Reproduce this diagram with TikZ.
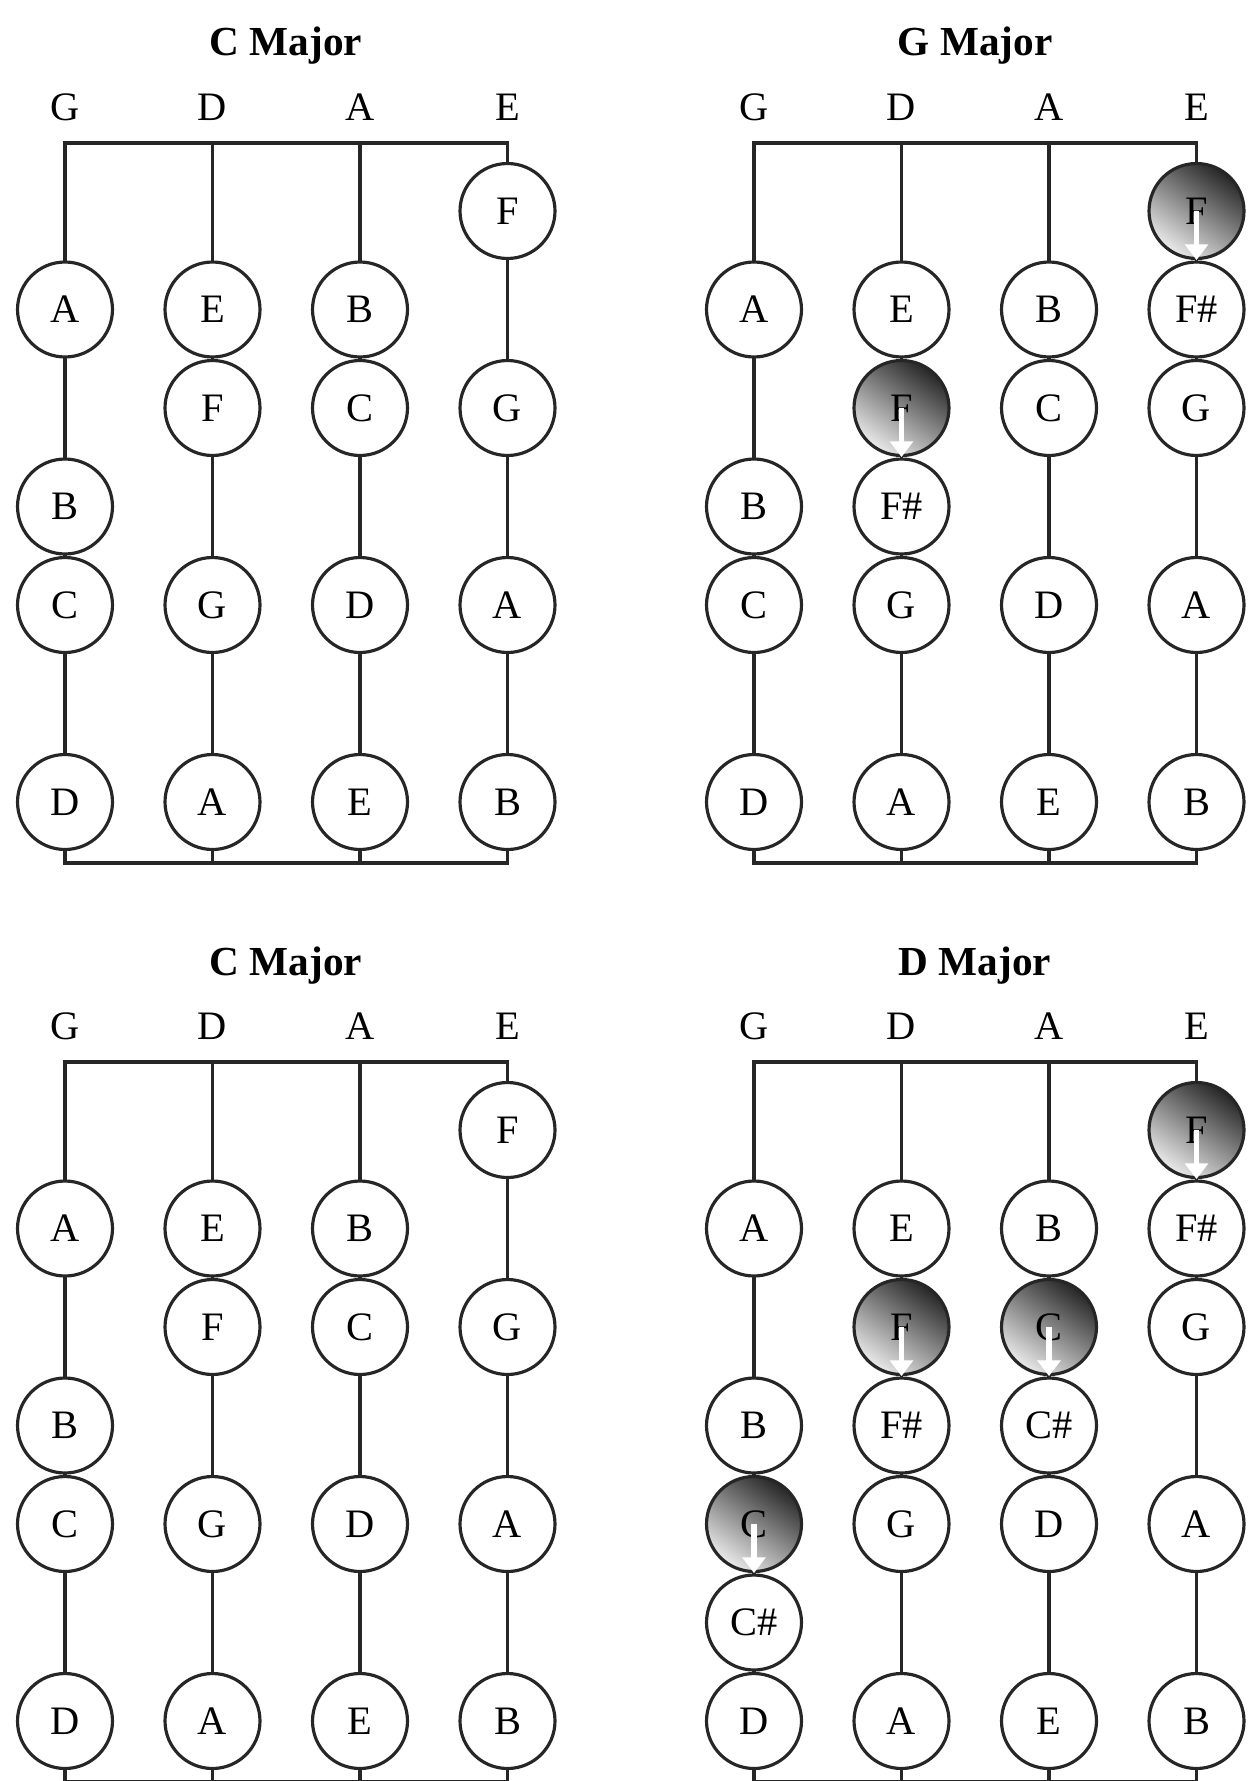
\documentclass[tikz,border=0pt]{standalone}
\usepackage{fontspec}
\setmainfont{Liberation Serif}
\usetikzlibrary{calc,arrows.meta}
\tikzset{
    string/.style={line width=2pt, black!85, line cap=rect},
    notecirc/.style={circle, draw=black!85, line width=1.8pt, fill=white,
        minimum size=1.9cm, inner sep=0pt, font=\fontsize{23}{27}\selectfont},
    flatnote/.style={top color=black!85, middle color=black!80, bottom color=black!8, shading angle=-35},
    sharparrow/.style={white, line width=3pt, -{Triangle[width=13pt,length=9pt]}},
    keytitle/.style={anchor=base, font=\bfseries\fontsize{23.5}{28}\selectfont},
    strlabel/.style={anchor=base, font=\fontsize{23}{27}\selectfont}
}
\newcommand{\fingerboard}[4]{
    \node[keytitle] (#1-title) at (#2+221,#3+56) {#4};
    \foreach \s [count=\i from 0] in {G,D,A,E} {
        \node[strlabel] (#1-\s) at (#2+147.5*\i,#3+120) {\s};
        \coordinate (#1-\s-nut) at (#2+147.5*\i,#3+143);
        \coordinate (#1-\s-end) at (#2+147.5*\i,#3+863);
        \draw[string] (#1-\s-nut) -- (#1-\s-end);
    }
    \draw[string] (#1-G-nut) -- (#1-E-nut);
    \draw[string] (#1-G-end) -- (#1-E-end);
}
\newcommand{\fingernote}[5]{
    \node[notecirc,#5] (#1-#2-#3) at ($(#1-#2-nut)+(0,98.5*#3-30.5)$) {#4};
}
\newcommand{\sharpen}[3]{
    \draw[sharparrow] (#1-#2-#3.center) -- (#1-#2-#3.south);
}

\begin{document}
\begin{tikzpicture}[x=0.02cm, y=-0.02cm]
    \useasboundingbox (0,0) rectangle (1251,1781);
    \clip (0,0) rectangle (1251,1781);

    % Fingerboards
    \fingerboard{tl}{65}{0}{C Major}
    \fingerboard{tr}{754}{0}{G Major}
    \fingerboard{bl}{65}{919}{C Major}
    \fingerboard{br}{754}{919}{D Major}

    % C major, top and bottom
    \foreach \p in {tl,bl} {
        \foreach \s/\n/\l in {G/2/A, G/4/B, G/5/C, G/7/D, D/2/E, D/3/F, D/5/G, D/7/A,
                A/2/B, A/3/C, A/5/D, A/7/E, E/1/F, E/3/G, E/5/A, E/7/B}
            \fingernote{\p}{\s}{\n}{\l}{};
    }

    % G major
    \foreach \s/\n/\l in {G/2/A, G/4/B, G/5/C, G/7/D, D/2/E, D/4/F\#, D/5/G, D/7/A,
            A/2/B, A/3/C, A/5/D, A/7/E, E/2/F\#, E/3/G, E/5/A, E/7/B}
        \fingernote{tr}{\s}{\n}{\l}{};
    \fingernote{tr}{D}{3}{F}{flatnote}
    \fingernote{tr}{E}{1}{F}{flatnote}
    \sharpen{tr}{D}{3}
    \sharpen{tr}{E}{1}

    % D major
    \foreach \s/\n/\l in {G/2/A, G/4/B, G/6/C\#, G/7/D, D/2/E, D/4/F\#, D/5/G, D/7/A,
            A/2/B, A/4/C\#, A/5/D, A/7/E, E/2/F\#, E/3/G, E/5/A, E/7/B}
        \fingernote{br}{\s}{\n}{\l}{};
    \fingernote{br}{G}{5}{C}{flatnote}
    \fingernote{br}{D}{3}{F}{flatnote}
    \fingernote{br}{A}{3}{C}{flatnote}
    \fingernote{br}{E}{1}{F}{flatnote}
    \foreach \s/\n in {G/5, D/3, A/3, E/1}
        \sharpen{br}{\s}{\n};
\end{tikzpicture}
\end{document}
